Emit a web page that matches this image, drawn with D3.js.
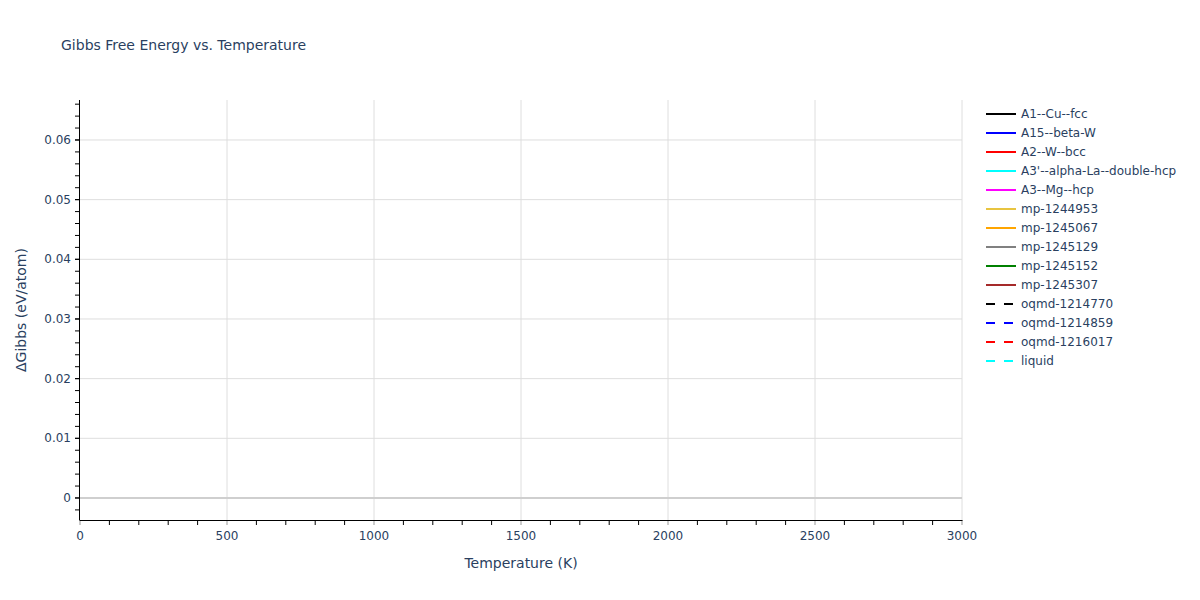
<!DOCTYPE html>
<html>
<head>
<meta charset="utf-8">
<script src="https://cdn.jsdelivr.net/npm/d3@7"></script>
<style>
  html, body { margin: 0; padding: 0; background: #fff; }
  svg text { font-family: "DejaVu Sans", Verdana, sans-serif; fill: #2a3f5f; }
</style>
</head>
<body>
<div id="chart"></div>
<script>
// series shown in the legend; the reference plots no visible points for any of them
var seriesNames = ["A1--Cu--fcc", "A15--beta-W", "A2--W--bcc", "A3'--alpha-La--double-hcp", "A3--Mg--hcp",
  "mp-1244953", "mp-1245067", "mp-1245129", "mp-1245152", "mp-1245307",
  "oqmd-1214770", "oqmd-1214859", "oqmd-1216017", "liquid"];
var seriesColors = ["#000000", "#0000ff", "#ff0000", "#00ffff", "#ff00ff",
  "#e8c440", "#ffa500", "#808080", "#008000", "#a52a2a",
  "#000000", "#0000ff", "#ff0000", "#00ffff"];
var seriesDashed = [false, false, false, false, false, false, false, false, false, false, true, true, true, true];
var seriesTemps = seriesNames.map(function () { return []; });
var seriesGibbs = seriesNames.map(function () { return []; });

var xTicks = [0, 500, 1000, 1500, 2000, 2500, 3000];
var yTicks = [0, 0.01, 0.02, 0.03, 0.04, 0.05, 0.06];
var xDomain = [0, 3000];
var yDomain = [-0.00369, 0.0667];

var W = 1200, H = 600, m = { t: 100, r: 238, b: 80, l: 80 };
var iw = W - m.l - m.r, ih = H - m.t - m.b;
var x = d3.scaleLinear().domain(xDomain).range([0, iw]);
var y = d3.scaleLinear().domain(yDomain).range([ih, 0]);
var GRID = "#dedede";

var svg = d3.select("#chart").append("svg").attr("width", W).attr("height", H);
svg.append("text").attr("x", 61).attr("y", 50).attr("font-size", 14).text("Gibbs Free Energy vs. Temperature");
var g = svg.append("g").attr("transform", "translate(" + m.l + "," + m.t + ")");

// grid
xTicks.forEach(function (t) {
  if (t === 0) return;
  g.append("line").attr("x1", x(t)).attr("x2", x(t)).attr("y1", 0).attr("y2", ih).attr("stroke", GRID);
});
yTicks.forEach(function (t) {
  g.append("line").attr("x1", 0).attr("x2", iw).attr("y1", y(t)).attr("y2", y(t))
    .attr("stroke", t === 0 ? "#cfcfcf" : GRID).attr("stroke-width", t === 0 ? 2 : 1);
});

// series lines (none visible in the reference)
var line = d3.line().x(function (d) { return x(d[0]); }).y(function (d) { return y(d[1]); });
seriesNames.forEach(function (n, i) {
  var pts = seriesTemps[i].map(function (t, j) { return [t, seriesGibbs[i][j]]; });
  if (!pts.length) return;
  g.append("path").attr("d", line(pts)).attr("fill", "none").attr("stroke", seriesColors[i])
    .attr("stroke-width", 2).attr("stroke-dasharray", seriesDashed[i] ? "9,9" : null);
});

// x axis
var xMinor = d3.range(xDomain[0], xDomain[1] + 1, 100);
xMinor.forEach(function (t) {
  if (t % 500 === 0) return;
  g.append("line").attr("x1", x(t)).attr("x2", x(t)).attr("y1", ih).attr("y2", ih + 5).attr("stroke", "#000");
});
xTicks.forEach(function (t) {
  g.append("line").attr("x1", x(t)).attr("x2", x(t)).attr("y1", ih).attr("y2", ih + 5).attr("stroke", "#999");
  g.append("text").attr("x", x(t)).attr("y", ih + 20).attr("text-anchor", "middle").attr("font-size", 12).text(t);
});
g.append("line").attr("x1", -0.5).attr("x2", iw + 0.5).attr("y1", ih + 0.5).attr("y2", ih + 0.5).attr("stroke", "#000");

// y axis
var yMinor = d3.range(-0.002, 0.0667, 0.002);
yMinor.forEach(function (t) {
  g.append("line").attr("x1", -5).attr("x2", 0).attr("y1", y(t)).attr("y2", y(t)).attr("stroke", "#000");
});
yTicks.forEach(function (t) {
  g.append("line").attr("x1", -5).attr("x2", 0).attr("y1", y(t)).attr("y2", y(t)).attr("stroke", "#000");
  g.append("text").attr("x", -9).attr("y", y(t) + 4).attr("text-anchor", "end").attr("font-size", 12).text(t === 0 ? "0" : t.toFixed(2));
});
g.append("line").attr("x1", -0.5).attr("x2", -0.5).attr("y1", 0).attr("y2", ih).attr("stroke", "#000");

svg.append("text").attr("x", m.l + iw / 2).attr("y", 568).attr("text-anchor", "middle").attr("font-size", 14).text("Temperature (K)");
svg.append("text").attr("transform", "rotate(-90)").attr("x", -(m.t + ih / 2)).attr("y", 26)
  .attr("text-anchor", "middle").attr("font-size", 14).text("\u0394Gibbs (eV/atom)");

// legend
var lg = svg.append("g").attr("transform", "translate(986,114)");
seriesNames.forEach(function (n, i) {
  var row = lg.append("g").attr("transform", "translate(0," + i * 19 + ")");
  row.append("line").attr("x1", 0).attr("x2", 30).attr("y1", 0).attr("y2", 0)
    .attr("stroke", seriesColors[i]).attr("stroke-width", 2).attr("stroke-dasharray", seriesDashed[i] ? "9,9" : null);
  row.append("text").attr("x", 35).attr("y", 4).attr("font-size", 12).text(n);
});
</script>
</body>
</html>
